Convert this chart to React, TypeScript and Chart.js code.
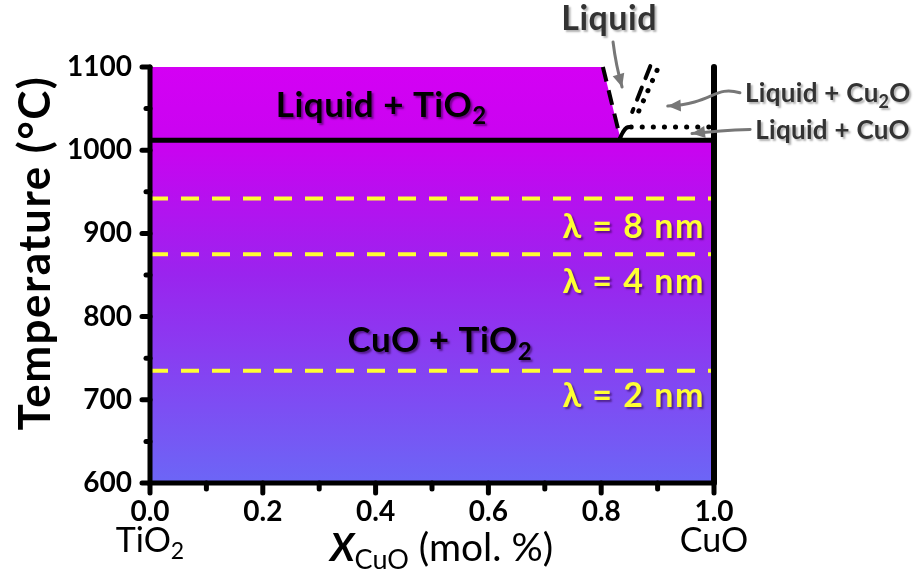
import { useEffect, useRef } from "react";
import { Chart, registerables } from "chart.js";
Chart.register(...registerables);

// ---- data ----
const xTicks = [0, 0.2, 0.4, 0.6, 0.8, 1.0];
const xMinor = [0.1, 0.3, 0.5, 0.7, 0.9];
const yTicks = [600, 700, 800, 900, 1000, 1100];
const yMinor = [650, 750, 850, 950, 1050];

const eutecticT = 1012;
// liquidus (TiO2 side), dashed
const liquidusX = [0.803, 0.834];
const liquidusT = [1100, 1014];
// small hook at the eutectic
const hookX = [0.833, 0.838, 0.845, 0.853];
const hookT = [1014, 1021, 1027, 1028];
// Liquid + CuO boundary (dotted)
const cuoX = [0.853, 1.0];
const cuoT = [1028, 1028];
// Cu2O liquidus lines
const dashUpX = [0.887, 0.855];
const dashUpT = [1101, 1046];
const dotUpX = [0.899, 0.862];
const dotUpT = [1096, 1040];
// coarsening wavelength isotherms
const lambdaT = [942, 875, 735];
const lambdaLabels = ["λ = 8 nm", "λ = 4 nm", "λ = 2 nm"];
const lambdaLabelT = [908, 841, 704];

const pts = (xs: number[], ys: number[]) => xs.map((x, i) => ({ x, y: ys[i] }));

type Part = { t: string; sub?: boolean; italic?: boolean; weight?: string };

function drawRich(
  ctx: CanvasRenderingContext2D,
  parts: Part[],
  x: number,
  y: number,
  size: number,
  weight: string,
  color: string,
  align: "left" | "center" | "right",
  spacing = 0,
  family = "Lato"
) {
  const fontFor = (p: Part) =>
    `${p.italic ? "italic " : ""}${p.weight || weight} ${p.sub ? Math.round(size * 0.68) : size}px ${family}`;
  (ctx as any).letterSpacing = `${spacing}px`;
  let total = 0;
  const widths = parts.map((p) => {
    ctx.font = fontFor(p);
    const w = ctx.measureText(p.t).width;
    total += w;
    return w;
  });
  let cx = align === "left" ? x : align === "center" ? x - total / 2 : x - total;
  ctx.fillStyle = color;
  ctx.textBaseline = "middle";
  ctx.textAlign = "left";
  parts.forEach((p, i) => {
    ctx.font = fontFor(p);
    ctx.fillText(p.t, cx, p.sub ? y + size * 0.32 : y);
    cx += widths[i];
  });
  (ctx as any).letterSpacing = "0px";
}

function arrow(ctx: CanvasRenderingContext2D, path: number[][], color: string) {
  ctx.save();
  ctx.strokeStyle = color;
  ctx.fillStyle = color;
  ctx.lineWidth = 3;
  ctx.lineCap = "round";
  ctx.beginPath();
  ctx.moveTo(path[0][0], path[0][1]);
  if (path.length === 4) {
    ctx.bezierCurveTo(path[1][0], path[1][1], path[2][0], path[2][1], path[3][0], path[3][1]);
  } else if (path.length === 3) {
    ctx.quadraticCurveTo(path[1][0], path[1][1], path[2][0], path[2][1]);
  } else {
    ctx.lineTo(path[1][0], path[1][1]);
  }
  const n = path.length;
  const [ex, ey] = path[n - 1];
  const [px, py] = path[n - 2];
  const ang = Math.atan2(ey - py, ex - px);
  const L = 13;
  const bx = ex - Math.cos(ang) * L;
  const by = ey - Math.sin(ang) * L;
  ctx.stroke();
  ctx.beginPath();
  ctx.moveTo(ex, ey);
  ctx.lineTo(bx + Math.cos(ang + Math.PI / 2) * 6, by + Math.sin(ang + Math.PI / 2) * 6);
  ctx.lineTo(bx - Math.cos(ang + Math.PI / 2) * 6, by - Math.sin(ang + Math.PI / 2) * 6);
  ctx.closePath();
  ctx.fill();
  ctx.restore();
}

const overlay = {
  id: "overlay",
  afterDatasetsDraw(chart: any) {
    const ctx: CanvasRenderingContext2D = chart.ctx;
    const xs = chart.scales.x;
    const ys = chart.scales.y;
    const a = chart.chartArea;
    const X = (v: number) => xs.getPixelForValue(v);
    const Y = (v: number) => ys.getPixelForValue(v);
    ctx.save();
    // axes
    ctx.strokeStyle = "#000";
    ctx.lineCap = "round";
    ctx.lineWidth = 5;
    ctx.beginPath();
    ctx.moveTo(a.left, a.top);
    ctx.lineTo(a.left, a.bottom);
    ctx.lineTo(a.right, a.bottom);
    ctx.stroke();
    ctx.lineWidth = 6;
    ctx.beginPath();
    ctx.moveTo(a.right, a.top);
    ctx.lineTo(a.right, a.bottom);
    ctx.stroke();
    // ticks
    ctx.lineWidth = 5;
    yTicks.forEach((v) => {
      ctx.beginPath();
      ctx.moveTo(a.left, Y(v));
      ctx.lineTo(a.left - 8, Y(v));
      ctx.stroke();
    });
    yMinor.forEach((v) => {
      ctx.beginPath();
      ctx.moveTo(a.left, Y(v));
      ctx.lineTo(a.left - 4, Y(v));
      ctx.stroke();
    });
    xTicks.forEach((v) => {
      ctx.beginPath();
      ctx.moveTo(X(v), a.bottom);
      ctx.lineTo(X(v), a.bottom + 10);
      ctx.stroke();
    });
    xMinor.forEach((v) => {
      ctx.beginPath();
      ctx.moveTo(X(v), a.bottom);
      ctx.lineTo(X(v), a.bottom + 6);
      ctx.stroke();
    });

    // region labels with shadow
    ctx.shadowColor = "rgba(40,0,60,0.55)";
    ctx.shadowOffsetX = 2;
    ctx.shadowOffsetY = 2;
    ctx.shadowBlur = 2;
    drawRich(ctx, [{ t: "Liquid + TiO" }, { t: "2", sub: true }], X(0.41), Y(1054), 35, "bold", "#000", "center", 0.5);
    drawRich(ctx, [{ t: "CuO + TiO" }, { t: "2", sub: true }], X(0.514), Y(771), 35, "bold", "#000", "center", 0.5);
    lambdaLabels.forEach((s, i) => {
      drawRich(ctx, [{ t: s }], X(0.984), Y(lambdaLabelT[i]), 34, "bold", "#ffff33", "right", 1.5);
    });
    ctx.shadowColor = "rgba(0,0,0,0.3)";
    drawRich(ctx, [{ t: "Liquid" }], X(0.814), Y(1158), 34, "bold", "#333", "center", 0.5);
    drawRich(ctx, [{ t: "Liquid + Cu" }, { t: "2", sub: true }, { t: "O" }], X(1.055), Y(1068), 26, "bold", "#333", "left", 0.3);
    drawRich(ctx, [{ t: "Liquid + CuO" }], X(1.073), Y(1024), 26, "bold", "#333", "left", 0.3);
    ctx.shadowColor = "transparent";

    arrow(ctx, [[X(0.821), Y(1130)], [X(0.826), Y(1102)], [X(0.837), Y(1076)]], "#777");
    arrow(
      ctx,
      [[X(1.046), Y(1069)], [X(1.0), Y(1078)], [X(1.0), Y(1056)], [X(0.918), Y(1053)]],
      "#777"
    );
    arrow(ctx, [[X(1.064), Y(1025)], [X(1.01), Y(1024)], [X(0.961), Y(1020)]], "#777");

    // axis titles
    drawRich(ctx, [{ t: "TiO" }, { t: "2", sub: true }], X(0), 541, 34, "normal", "#000", "center");
    drawRich(ctx, [{ t: "CuO" }], X(1), 541, 34, "normal", "#000", "center");
    drawRich(
      ctx,
      [{ t: "X", italic: true, weight: "bold" }, { t: "CuO", sub: true }, { t: " (mol. %)" }],
      X(0.517),
      548,
      39,
      "normal",
      "#000",
      "center"
    );
    ctx.save();
    ctx.translate(36, 253);
    ctx.rotate(-Math.PI / 2);
    drawRich(ctx, [{ t: "Temperature (°C)" }], 0, 0, 44, "bold", "#000", "center", 1.5);
    ctx.restore();
    ctx.restore();
  },
};

export default function App() {
  const ref = useRef<HTMLCanvasElement | null>(null);
  useEffect(() => {
    document.body.style.margin = "0";
    const canvas = ref.current!;
    const bg = (c: any) => {
      const ch = c.chart;
      const a = ch.chartArea;
      if (!a) return "#b000f0";
      const g = ch.ctx.createLinearGradient(0, a.top, 0, a.bottom);
      g.addColorStop(0, "#d400f4");
      g.addColorStop(0.2, "#c804f0");
      g.addColorStop(0.5, "#9a24ee");
      g.addColorStop(1, "#6c66f6");
      return g;
    };
    const line = (data: any[], color: string, width: number, dash: number[] = [], cap = "butt") => ({
      data,
      showLine: true,
      borderColor: color,
      borderWidth: width,
      borderDash: dash,
      borderCapStyle: cap,
      pointRadius: 0,
      fill: false,
      clip: false,
      tension: 0,
      order: 0,
    });
    const chart = new Chart(canvas, {
      type: "scatter",
      data: {
        datasets: [
          ...lambdaT.map((t) => line([{ x: 0, y: t }, { x: 1, y: t }], "#ffff33", 4, [18, 13])),
          line([{ x: 0, y: eutecticT }, { x: 1, y: eutecticT }], "#000", 5),
          line(pts(liquidusX, liquidusT), "#000", 4, [15, 9]),
          { ...line(pts(hookX, hookT), "#000", 4, [], "round"), tension: 0.4 },
          line(pts(cuoX, cuoT), "#000", 5, [0.1, 11], "round"),
          line(pts(dashUpX, dashUpT), "#000", 4, [13, 10], "round"),
          line(pts(dotUpX, dotUpT), "#000", 5, [0.1, 11], "round"),
          {
            data: [
              { x: 0, y: liquidusT[0] },
              ...pts(liquidusX, liquidusT),
              { x: liquidusX[1], y: eutecticT },
              { x: 1, y: eutecticT },
            ],
            showLine: true,
            borderWidth: 0,
            borderColor: "rgba(0,0,0,0)",
            backgroundColor: bg,
            fill: "start",
            pointRadius: 0,
            order: 10,
          } as any,
        ] as any,
      },
      options: {
        animation: false,
        responsive: false,
        layout: { padding: { top: 67, right: 203, left: 0, bottom: 0 } },
        plugins: { legend: { display: false }, tooltip: { enabled: false } },
        scales: {
          x: {
            type: "linear",
            min: 0,
            max: 1,
            afterFit: (s: any) => {
              s.height = 94;
            },
            afterBuildTicks: (s: any) => {
              s.ticks = xTicks.map((v) => ({ value: v }));
            },
            ticks: {
              callback: (v: any) => Number(v).toFixed(1),
              color: "#000",
              font: { family: "Lato", weight: "bold", size: 28 },
              padding: 0,
              maxRotation: 0,
            },
            grid: { display: true, drawOnChartArea: false, color: "rgba(0,0,0,0)", tickLength: 12 },
            border: { display: false },
          },
          y: {
            type: "linear",
            min: 600,
            max: 1100,
            afterFit: (s: any) => {
              s.width = 150;
            },
            afterBuildTicks: (s: any) => {
              s.ticks = yTicks.map((v) => ({ value: v }));
            },
            ticks: {
              callback: (v: any) => String(v),
              color: "#000",
              font: { family: "Lato", weight: "bold", size: 28 },
              padding: 6,
            },
            grid: { display: true, drawOnChartArea: false, color: "rgba(0,0,0,0)", tickLength: 12 },
            border: { display: false },
          },
        },
      },
      plugins: [overlay],
    } as any);
    return () => chart.destroy();
  }, []);
  return (
    <div style={{ width: 917, height: 577, background: "#fff" }}>
      <canvas ref={ref} width={917} height={577} />
    </div>
  );
}
